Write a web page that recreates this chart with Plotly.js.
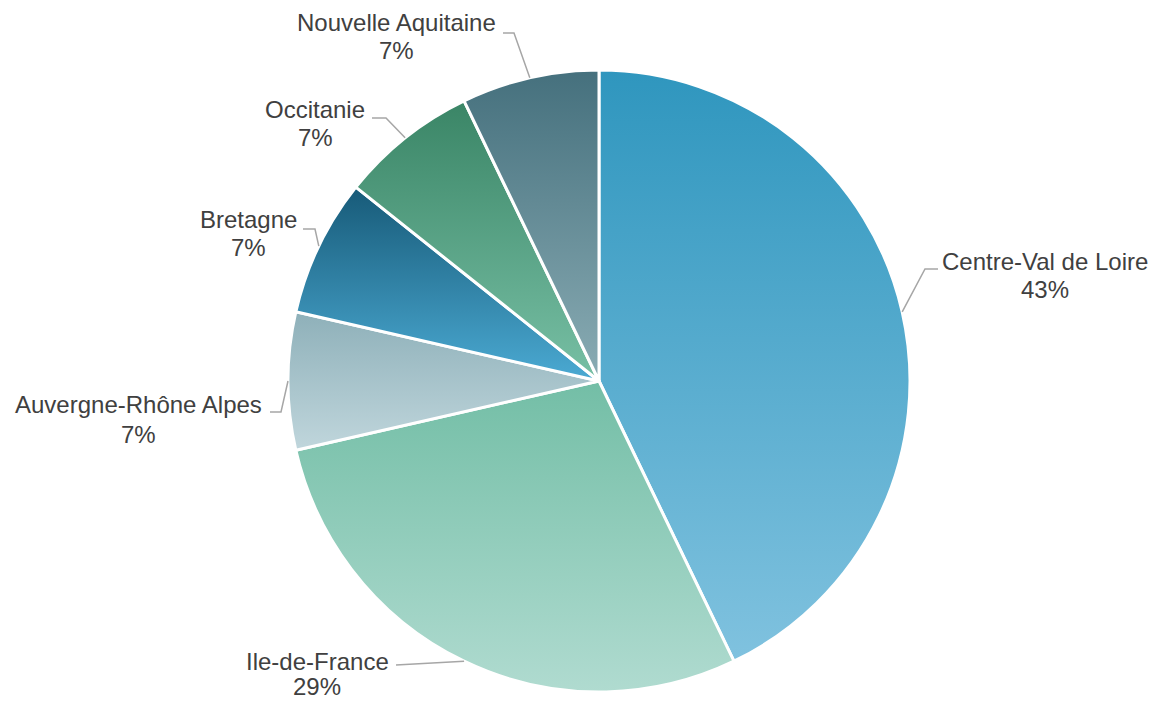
<!DOCTYPE html>
<html>
<head>
<meta charset="utf-8">
<script src="https://cdn.plot.ly/plotly-3.0.1.min.js"></script>
<style>
  html, body { margin: 0; padding: 0; background: #ffffff; }
  #chart { width: 1157px; height: 702px; }
</style>
</head>
<body>
<div id="chart"></div>
<script>
// ---- data ----
const regions = ["Centre-Val de Loire", "Ile-de-France", "Auvergne-Rhône Alpes", "Bretagne", "Occitanie", "Nouvelle Aquitaine"];
const counts = [6, 4, 1, 1, 1, 1];
const colorsTop = ["#2F96BE", "#73BEA6", "#8EB0B9", "#175A78", "#3A8566", "#45707D"];
const colorsBottom = ["#80C2DF", "#B0DBD0", "#C0D6DC", "#4BAAD3", "#78C0A5", "#8AACB4"];
const colorsMid = ["#57ACCF", "#92CDBB", "#A7C3CA", "#3483A8", "#5AA386", "#678F99"];

// ---- layout (pixels) ----
const W = 1157, H = 702;
const CX = 599, CY = 381, R = 311;
// label centre x, name line y, percent line y
const labelX = [1045, 317, 138, 248, 315, 396];
const nameY = [262, 661, 405, 219, 110, 23];
const pctY = [290, 686, 434, 247, 138, 51];
const leaderStart = [[938, 269], [396, 665], [270, 412], [303, 229], [372, 118], [503, 33]];
const leaderElbow = [[925, 269], [396, 665], [281, 412], [315, 229], [386, 118], [514, 33]];

const px = x => x / W;
const py = y => 1 - y / H;
const labelFont = { family: "Liberation Sans, Arial, Helvetica, sans-serif", size: 24, color: "#404040" };

const total = counts.reduce((a, b) => a + b, 0);
const annotations = [];
const shapes = [];
let cum = 0;
counts.forEach((v, i) => {
  const mid = (cum + v / 2) / total * 2 * Math.PI; // clockwise from 12 o'clock
  cum += v;
  const ax = CX + R * Math.sin(mid);
  const ay = CY - R * Math.cos(mid);
  const pct = Math.round(v / total * 100) + "%";
  annotations.push({
    x: px(labelX[i]), y: py(nameY[i]), xref: "paper", yref: "paper",
    text: regions[i], showarrow: false, xanchor: "center", yanchor: "middle",
    borderpad: 0, font: labelFont
  });
  annotations.push({
    x: px(labelX[i]), y: py(pctY[i]), xref: "paper", yref: "paper",
    text: pct, showarrow: false, xanchor: "center", yanchor: "middle",
    borderpad: 0, font: labelFont
  });
  const s = leaderStart[i], e = leaderElbow[i];
  shapes.push({
    type: "path", xref: "paper", yref: "paper",
    path: `M ${px(s[0])} ${py(s[1])} L ${px(e[0])} ${py(e[1])} L ${px(ax)} ${py(ay)}`,
    line: { color: "#A6A6A6", width: 1.5 }
  });
});

const trace = {
  type: "pie",
  labels: regions,
  values: counts,
  sort: false,
  direction: "clockwise",
  rotation: 0,
  textinfo: "none",
  hoverinfo: "label+percent",
  marker: { colors: colorsMid, line: { color: "#ffffff", width: 3 } },
  domain: { x: [(CX - R) / W, (CX + R) / W], y: [1 - (CY + R) / H, 1 - (CY - R) / H] },
  showlegend: false
};

const layout = {
  width: W, height: H,
  margin: { l: 0, r: 0, t: 0, b: 0 },
  paper_bgcolor: "#ffffff",
  plot_bgcolor: "#ffffff",
  showlegend: false,
  annotations: annotations,
  shapes: shapes,
  font: { family: "Liberation Sans, Arial, sans-serif" }
};

Plotly.newPlot("chart", [trace], layout, { displayModeBar: false, staticPlot: true }).then(gd => {
  const svg = gd.querySelector("svg.main-svg");
  const ns = "http://www.w3.org/2000/svg";
  let defs = svg.querySelector("defs");
  if (!defs) { defs = document.createElementNS(ns, "defs"); svg.insertBefore(defs, svg.firstChild); }
  const paths = gd.querySelectorAll(".slice path.surface");
  paths.forEach((p, i) => {
    const g = document.createElementNS(ns, "linearGradient");
    g.setAttribute("id", "sliceGrad" + i);
    g.setAttribute("x1", "0"); g.setAttribute("y1", "0");
    g.setAttribute("x2", "0"); g.setAttribute("y2", "1");
    const s1 = document.createElementNS(ns, "stop");
    s1.setAttribute("offset", "0"); s1.setAttribute("stop-color", colorsTop[i]);
    const s2 = document.createElementNS(ns, "stop");
    s2.setAttribute("offset", "1"); s2.setAttribute("stop-color", colorsBottom[i]);
    g.appendChild(s1); g.appendChild(s2);
    defs.appendChild(g);
    p.style.fill = "url(#sliceGrad" + i + ")";
  });
});
</script>
</body>
</html>
